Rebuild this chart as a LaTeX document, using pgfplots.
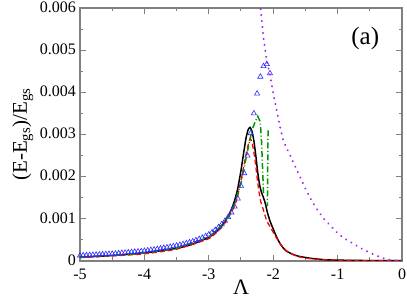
\documentclass[border=0pt]{standalone}
\usepackage{pgfplots}
\pgfplotsset{compat=1.18}
\usepackage{fontspec}
\setmainfont{Liberation Serif}
\definecolor{mypurple}{RGB}{160,32,240}
\definecolor{mygreen}{RGB}{0,150,0}
\definecolor{myblue}{RGB}{40,40,255}
\definecolor{myred}{RGB}{255,0,0}
\definecolor{framegray}{RGB}{128,128,128}
\begin{document}
\begin{tikzpicture}
\begin{axis}[
  scale only axis, width=322pt, height=253pt,
  xmin=-5, xmax=0, ymin=0, ymax=0.006,
  xtick={-5,-4,-3,-2,-1,0},
  xticklabels={-5,-4,-3,-2,-1,0},
  ytick={0,0.001,0.002,0.003,0.004,0.005,0.006},
  yticklabels={0,0.001,0.002,0.003,0.004,0.005,0.006},
  minor x tick num=1, minor y tick num=1,
  scaled y ticks=false,
  tick align=inside,
  major tick length=6pt, minor tick length=3.5pt,
  axis line style={framegray, line width=1.3pt},
  every tick/.style={framegray, line width=1pt},
  tick label style={font=\fontsize{16}{18}\selectfont, inner sep=1pt},
  yticklabel style={xshift=-3pt, yshift=1pt},
  xticklabel style={yshift=-6.5pt},
  /pgf/number format/assume math mode=true,
  xlabel={Λ},
  xlabel style={font=\fontsize{22}{24}\selectfont, yshift=4pt},
  ylabel={(E-E\textsubscript{gs})/E\textsubscript{gs}},
  ylabel style={font=\fontsize{21}{23}\selectfont, yshift=2pt},
  unbounded coords=jump,
  clip=true,
]
\coordinate (sw) at (rel axis cs:0,0);
\coordinate (ne) at (rel axis cs:1,1);
% blue triangles
\addplot[only marks, mark=triangle, mark size=3pt, myblue, mark options={line width=0.6pt}] coordinates {
(-5.00,0.000130)(-4.95,0.000133)(-4.90,0.000137)(-4.85,0.000141)(-4.80,0.000145)
(-4.75,0.000149)(-4.70,0.000153)(-4.65,0.000158)(-4.60,0.000162)(-4.55,0.000166)
(-4.50,0.000170)(-4.45,0.000176)(-4.40,0.000183)(-4.35,0.000190)(-4.30,0.000197)
(-4.25,0.000204)(-4.20,0.000211)(-4.15,0.000218)(-4.10,0.000225)(-4.05,0.000232)
(-4.00,0.000240)(-3.95,0.000250)(-3.90,0.000261)(-3.85,0.000272)(-3.80,0.000284)
(-3.75,0.000296)(-3.70,0.000309)(-3.65,0.000322)(-3.60,0.000336)(-3.55,0.000350)
(-3.50,0.000365)(-3.45,0.000382)(-3.40,0.000400)(-3.35,0.000420)(-3.30,0.000442)
(-3.25,0.000466)(-3.20,0.000492)(-3.15,0.000521)(-3.10,0.000553)(-3.05,0.000590)
(-3.00,0.000630)(-2.95,0.000680)(-2.90,0.000735)(-2.85,0.000800)(-2.80,0.000870)
(-2.75,0.000950)(-2.70,0.001040)(-2.65,0.001150)(-2.60,0.001290)(-2.55,0.001480)
(-2.50,0.001780)(-2.45,0.002080)(-2.40,0.002500)(-2.35,0.003030)(-2.30,0.003500)
(-2.25,0.003970)(-2.20,0.004370)(-2.15,0.004620)(-2.10,0.004670)(-2.05,0.004450)
};
% black solid
\addplot[black, line width=1.5pt, smooth, tension=0.3] coordinates {
(-5,0.00009)(-4.5,0.00013)(-4,0.00019)(-3.5,0.00030)(-3.25,0.00040)(-3,0.00056)
(-2.9,0.00067)(-2.8,0.00083)(-2.7,0.00106)(-2.65,0.00122)(-2.6,0.00143)(-2.55,0.00172)
(-2.5,0.00215)(-2.45,0.00265)(-2.42,0.00293)(-2.39,0.00311)(-2.36,0.00317)(-2.33,0.00308)
(-2.30,0.00285)(-2.27,0.00250)(-2.24,0.00210)(-2.21,0.00180)(-2.18,0.00162)(-2.15,0.00150)
(-2.12,0.00135)(-2.09,0.00115)(-2.05,0.00095)(-2.0,0.00076)(-1.95,0.00058)(-1.9,0.00043)
(-1.85,0.00032)(-1.8,0.00024)(-1.7,0.00016)(-1.6,0.00011)(-1.4,0.00006)(-1.2,0.00003)
(-1.0,0.00002)(-0.5,0.00001)(0,0.00001)
};
% red dashed
\addplot[myred, line width=1.3pt, dash pattern=on 5pt off 3pt, smooth, tension=0.3] coordinates {
(-5,0.00008)(-4.5,0.00012)(-4,0.00017)(-3.5,0.00028)(-3,0.00053)(-2.8,0.00080)
(-2.7,0.00102)(-2.6,0.00130)(-2.55,0.00155)(-2.5,0.00190)(-2.45,0.00230)(-2.4,0.00268)
(-2.36,0.00290)(-2.33,0.00282)(-2.30,0.00258)(-2.27,0.00225)(-2.24,0.00185)(-2.2,0.00145)
(-2.15,0.00120)(-2.1,0.00095)(-2.05,0.00082)(-2.0,0.00068)(-1.95,0.00055)(-1.9,0.00043)
(-1.85,0.00033)(-1.8,0.00025)(-1.7,0.00016)(-1.6,0.00010)(-1.4,0.00005)(-1.2,0.00003)
(-1.0,0.00002)(-0.5,0.00001)(0,0.00001)
};
% green dash-dot
\addplot[mygreen, line width=1.5pt, dash pattern=on 6pt off 2.5pt on 1pt off 2.5pt] coordinates {
(-5,0.00009)(-4.5,0.00013)(-4,0.00019)(-3.5,0.00030)(-3,0.00056)(-2.8,0.00085)
(-2.7,0.00105)(-2.6,0.00135)(-2.5,0.00185)(-2.4,0.00260)(-2.33,0.00310)(-2.28,0.00330)
(-2.24,0.00343)(-2.2,0.00330)(-2.18,0.00280)(-2.15,0.00160)(-2.12,nan)
(-2.08,0.00310)(-2.09,0.00130)
};
% purple dotted
\addplot[mypurple, line width=2.2pt, line cap=round, dash pattern=on 0.01pt off 6pt] coordinates {
(-2.22,0.0064)(-2.20,0.00606)(-2.15,0.00528)(-2.10,0.00475)(-2.05,0.00442)(-2.00,0.00399)
(-1.95,0.00360)(-1.90,0.00322)(-1.85,0.00290)(-1.80,0.00270)(-1.75,0.00255)(-1.70,0.00238)
(-1.60,0.00205)(-1.50,0.00172)(-1.40,0.00142)(-1.30,0.00118)(-1.20,0.00098)(-1.10,0.00082)
(-1.00,0.00066)(-0.90,0.00054)(-0.80,0.00045)(-0.70,0.00036)(-0.60,0.00027)(-0.50,0.00020)
(-0.40,0.00013)(-0.30,0.00007)(-0.20,0.00003)(-0.10,0.00001)(0,0)
};
\node[font=\fontsize{25}{27}\selectfont] at (axis cs:-0.57,0.00528) {(a)};
\end{axis}
\pgfresetboundingbox
\path ([xshift=-80pt,yshift=-41pt]sw) rectangle ([xshift=5pt,yshift=8pt]ne);
\end{tikzpicture}
\end{document}
